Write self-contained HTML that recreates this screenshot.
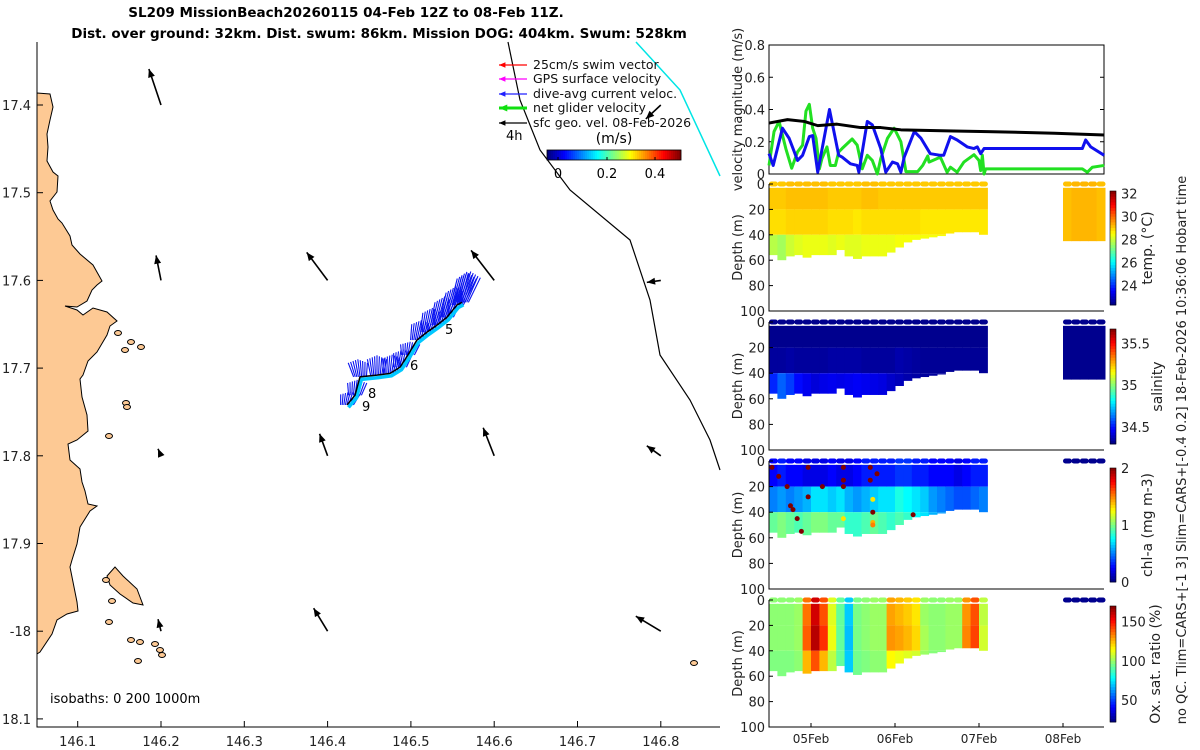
<!DOCTYPE html>
<html><head><meta charset="utf-8"><style>
html,body{margin:0;padding:0;background:#fff;}
svg{display:block;font-family:"DejaVu Sans","Liberation Sans",sans-serif;}
</style></head><body>
<svg id="fig" width="1200" height="750" viewBox="0 0 1200 750" xmlns="http://www.w3.org/2000/svg">
<g font-weight="bold" font-size="13.5" text-anchor="middle">
<text x="346" y="17">SL209 MissionBeach20260115 04-Feb 12Z to 08-Feb 11Z.</text>
<text x="379" y="38">Dist. over ground: 32km. Dist. swum: 86km. Mission DOG: 404km. Swum: 528km</text>
</g>
<g id="map"></g>
<g id="right"></g>
<text transform="translate(1186,450) rotate(-90)" text-anchor="middle" font-size="13" fill="#222">no QC. Tlim=CARS+[-1 3] Slim=CARS+[-0.4 0.2] 18-Feb-2026 10:36:06 Hobart time</text>
</svg>
<script>
// ---------- DATA ----------
const lonTicks=[146.1,146.2,146.3,146.4,146.5,146.6,146.7,146.8];
const latTicks=[17.4,17.5,17.6,17.7,17.8,17.9,18.0,18.1];
const latTickLabels=["17.4","17.5","17.6","17.7","17.8","17.9","-18","18.1"];
const trackLon=[146.4233,146.4329,146.4389,146.4593,146.4749,146.4869,146.4965,146.5073,146.5193,146.5313,146.5433,146.5553,146.5613];
const trackLat=[17.742,17.731,17.710,17.708,17.706,17.699,17.685,17.668,17.659,17.651,17.642,17.628,17.625];
const curU=[0.03,0.02,-0.02,0.0,0.02,0.03,0.02,0.04,0.05,0.07,0.08,0.09,0.08];
const curV=[0.12,0.14,0.16,0.18,0.17,0.16,0.12,0.18,0.22,0.26,0.28,0.30,0.28];
const geoLon=[146.2,146.2,146.2,146.2,146.4,146.4,146.4,146.6,146.6,146.8,146.8,146.8,146.8];
const geoLat=[17.4,17.6,17.8,18.0,17.6,17.8,18.0,17.6,17.8,17.4,17.6,17.8,18.0];
const geoU=[-0.11,-0.045,-0.027,-0.027,-0.19,-0.073,-0.127,-0.21,-0.1,-0.136,-0.127,-0.127,-0.227];
const geoV=[0.327,0.227,0.064,0.109,0.255,0.2,0.209,0.273,0.255,-0.127,-0.018,0.091,0.136];
// velocity panel (days since 04-Feb 12Z, m/s)
const blueT=[0,0.05,0.16,0.24,0.34,0.4,0.48,0.52,0.58,0.72,0.83,0.87,0.97,1.05,1.07,1.17,1.23,1.33,1.39,1.47,1.53,1.57,1.61,1.73,1.81,1.92,2.04,2.08,2.16,2.24,2.36,2.44,2.48,2.52,2.56,3.73,3.77,3.83,3.99];
const blueV=[0.126,0.053,0.284,0.221,0.084,0.116,0.232,0.238,0.011,0.4,0.116,0.105,0.063,0.053,0.011,0.326,0.305,0.158,0.011,0.074,0.063,0.011,0.105,0.263,0.221,0.126,0.116,0.116,0.232,0.211,0.168,0.158,0.168,0.126,0.158,0.158,0.211,0.168,0.116];
const greenT=[0,0.06,0.12,0.2,0.27,0.34,0.4,0.44,0.48,0.52,0.56,0.6,0.63,0.69,0.73,0.79,0.83,0.87,0.99,1.05,1.11,1.17,1.23,1.29,1.33,1.41,1.49,1.57,1.63,1.77,1.83,1.89,1.905,2.04,2.12,2.16,2.24,2.32,2.44,2.5,2.52,2.54,2.56,2.58,3.73,3.79,3.85,3.99];
const greenV=[0.053,0.263,0.326,0.158,0.036,0.137,0.179,0.39,0.432,0.284,0.221,0.032,0.095,0.168,0.053,0.053,0.137,0.158,0.217,0.179,0.032,0.116,0.084,0,0.095,0.221,0.284,0.2,0.015,0.015,0.053,0.112,0.074,0.105,0.011,0.042,0.011,0.074,0.12,0.084,0.021,0.116,0,0.032,0.032,0.011,0.042,0.053];
const blackT=[0,0.22,0.42,0.58,0.81,1.09,1.33,1.57,2.2,2.6,3.4,3.99];
const blackV=[0.316,0.337,0.326,0.30,0.309,0.288,0.288,0.274,0.267,0.263,0.253,0.242];
// profile columns (days) and max depth (m)
const colT=[0,0.1,0.2,0.3,0.4,0.5,0.6,0.7,0.8,0.9,1.0,1.1,1.2,1.3,1.4,1.5,1.6,1.7,1.8,1.9,2.0,2.1,2.2,2.3,2.4,2.5];
const colDepth=[56,60,57,56,58,56,56,56,52,57,59,57,57,57,54,50,46,44,43,42,41,39,38,38,38,40];
const lateT=[3.5,3.6,3.7,3.8,3.9];
const lateDepth=[45,45,45,45,45];
const tempTop=[29.0,29.0,29.1,29.1,29.1,29.1,29.1,29.0,29.0,29.0,29.0,29.1,29.1,29.0,29.0,29.0,29.0,29.0,29.0,29.0,29.0,29.0,29.0,29.0,29.0,29.0];
const tempMid=[28.8,28.8,28.9,28.9,28.9,28.9,28.9,28.8,28.8,28.8,28.7,28.8,28.8,28.8,28.8,28.8,28.8,28.8,28.7,28.7,28.7,28.7,28.7,28.7,28.7,28.7];
const tempBot=[27.8,27.6,28.0,28.2,28.3,28.3,28.3,28.2,28.3,28.2,28.2,28.3,28.3,28.3,28.3,28.4,28.4,28.4,28.4,28.4,28.4,28.4,28.4,28.4,28.4,28.4];
const tempLate=[29.1,29.2,29.2,29.2,29.1];
const salTop=[34.32,34.32,34.32,34.32,34.32,34.32,34.32,34.32,34.32,34.32,34.32,34.32,34.32,34.32,34.32,34.32,34.32,34.32,34.32,34.32,34.32,34.32,34.32,34.32,34.32,34.32];
const salMid=[34.34,34.34,34.35,34.34,34.34,34.34,34.34,34.35,34.35,34.35,34.35,34.34,34.34,34.34,34.34,34.36,34.35,34.34,34.33,34.33,34.33,34.33,34.33,34.33,34.33,34.33];
const salBot=[34.52,34.6,34.55,34.48,34.45,34.42,34.44,34.45,34.44,34.45,34.46,34.45,34.44,34.43,34.4,34.38,34.36,34.35,34.34,34.34,34.34,34.34,34.34,34.34,34.34,34.34];
const salLate=[34.32,34.32,34.32,34.32,34.32];
const chlTop=[0.25,0.3,0.25,0.25,0.2,0.2,0.2,0.25,0.2,0.2,0.25,0.3,0.3,0.3,0.3,0.35,0.35,0.3,0.3,0.25,0.25,0.25,0.2,0.25,0.3,0.3];
const chlMid=[0.5,0.55,0.5,0.55,0.6,0.7,0.7,0.65,0.7,0.6,0.55,0.6,0.65,0.7,0.7,0.8,0.75,0.7,0.65,0.55,0.5,0.45,0.4,0.4,0.45,0.5];
const chlBot=[0.95,1.0,0.95,0.9,0.95,1.0,1.0,0.95,0.95,0.85,0.85,0.9,0.95,0.9,0.85,0.9,0.85,0.75,0.7,0.6,0.55,0.5,0.5,0.5,0.55,0.6];
const chlDotT=[0,0.08,0.18,0.22,0.25,0.3,0.35,0.43,0.43,0.6,0.85,0.85,0.85,0.85,1.17,1.17,1.2,1.2,1.2,1.2,1.25,1.68];
const chlDotD=[5,12,20,35,38,45,55,5,28,20,5,15,20,45,5,15,30,40,48,50,10,42];
const chlDotV=[2,2,2,2,2,2,2,2,2,2,2,2,2,1.3,2,2,1.3,2,1.4,1.5,2,2];
const oxTop=[98,98,98,100,135,158,140,110,92,70,95,98,100,100,128,125,122,118,100,98,98,100,100,130,140,105];
const oxMid=[98,98,98,100,138,162,145,112,92,68,95,98,100,100,130,128,125,120,102,98,98,100,100,132,142,108];
const oxBot=[96,96,96,98,125,140,125,105,92,70,94,96,98,98,115,112,110,108,100,97,97,98,98,115,120,102];
// ---------- helpers ----------
const NS="http://www.w3.org/2000/svg";
function mk(tag,attrs,parent){const e=document.createElementNS(NS,tag);for(const k in attrs)e.setAttribute(k,attrs[k]);parent.appendChild(e);return e;}
function jet(t){t=Math.max(0,Math.min(1,t));const c=v=>Math.round(255*Math.max(0,Math.min(1,v)));
 return `rgb(${c(1.5-Math.abs(4*t-3))},${c(1.5-Math.abs(4*t-2))},${c(1.5-Math.abs(4*t-1))})`;}
// ---------- MAP ----------
const map=document.getElementById('map');
const mx=lon=>77.7+(lon-146.1)*833;
const my=lat=>105+(lat-17.4)*877;
const M={l:37,r:720,t:42,b:727};
const coast="37,93 50,94 53,107 50,120 47,134 48,147 47,161 53,172 58,176 57,192 50,201 53,210 58,219 62,223 70,236 72,245 80,254 93,265 102,281 97,285 92,290 87,301 77,307 65,306 77,310 83,315 93,308 107,312 117,321 110,326 107,335 97,352 88,361 83,375 80,379 82,397 87,415 88,431 77,440 68,444 70,460 80,469 82,482 85,491 88,504 97,506 90,511 80,527 77,544 72,560 70,567 77,602 78,611 67,614 57,620 52,634 40,652 37,654";
let e=mk('polygon',{points:coast,fill:'#fdc994',stroke:'#000','stroke-width':1},map);


e=mk('polygon',{points:"107,576 115,567 123,576 137,589 143,605 133,603 120,594 110,585",fill:'#fdc994',stroke:'#000','stroke-width':1},map);


[[131,342],[141,347],[126,403],[127,407],[109,436],[106,580],[112,601],[109,622],[131,640],[140,642],[155,644],[160,650],[162,655],[138,661],[694,663],[125,350],[118,333]].forEach(p=>{
 const s=mk('ellipse',{cx:p[0],cy:p[1],rx:3.5,ry:2.5,fill:'#fdc994',stroke:'#000','stroke-width':1},map);
 
 
});
e=mk('polyline',{points:"508,42 520,100 540,150 570,190 630,240 650,300 660,355 690,400 710,440 720,470",fill:'none',stroke:'#000','stroke-width':1.2},map);


e=mk('polyline',{points:"636,42 680,90 720,176",fill:'none',stroke:'#00e5e5','stroke-width':1.5},map);


e=mk('path',{d:`M${M.l},${M.t}V${M.b}H${M.r}`,fill:'none',stroke:'#000','stroke-width':1},map);


lonTicks.forEach(v=>{const x=mx(v);mk('line',{x1:x,x2:x,y1:M.b,y2:M.b-6,stroke:'#000'},map);
 const t=mk('text',{x:x,y:746,'text-anchor':'middle','font-size':13,fill:'#222'},map);t.textContent=v.toFixed(1);
 
 });
latTicks.forEach((v,i)=>{const y=my(v);mk('line',{x1:M.l,x2:M.l+6,y1:y,y2:y,stroke:'#000'},map);
 const t=mk('text',{x:31,y:y+5,'text-anchor':'end','font-size':13,fill:'#222'},map);t.textContent=latTickLabels[i];
 
 });
function arrow(x1,y1,x2,y2,col,w,hs,parent,name){
 const g=mk('g',{},parent);
 
 
 mk('line',{x1,y1,x2,y2,stroke:col,'stroke-width':w},g);
 const a=Math.atan2(y2-y1,x2-x1);
 const p=[[x2,y2],[x2-hs*Math.cos(a-0.4),y2-hs*Math.sin(a-0.4)],[x2-hs*Math.cos(a+0.4),y2-hs*Math.sin(a+0.4)]];
 mk('polygon',{points:p.map(q=>q.join(',')).join(' '),fill:col},g);
}
const VS=110;
geoLon.forEach((lo,i)=>{const x=mx(lo),y=my(geoLat[i]);arrow(x,y,x+geoU[i]*VS,y-geoV[i]*VS,'#000',1.6,9,map,'geo-velocity-arrow');});
trackLon.forEach((lo,i)=>{const x=mx(lo),y=my(trackLat[i]);
 for(let k=-4;k<=4;k++){const l=mk('line',{x1:x+k*1.6,y1:y,x2:x+k*2.4+curU[i]*VS,y2:y-curV[i]*VS*(1-Math.abs(k)*0.05),stroke:'#0a14f0','stroke-width':1.1},map);
 
 }
});
e=mk('polyline',{points:trackLon.map((lo,i)=>`${mx(lo)+1.5},${my(trackLat[i])+2.5}`).join(' '),fill:'none',stroke:'#00c8ff','stroke-width':3.5},map);


e=mk('polyline',{points:trackLon.map((lo,i)=>`${mx(lo)},${my(trackLat[i])}`).join(' '),fill:'none',stroke:'#000','stroke-width':1.5},map);


[['5',445,334],['6',410,370],['8',368,398],['9',362,411]].forEach(d=>{const t=mk('text',{x:d[1],y:d[2],'font-size':13},map);t.textContent=d[0];
 
 });
const legCols=['#ff0000','#ff00ff','#2020ff','#10e010','#000'];
const legTxt=['25cm/s swim vector','GPS surface velocity','dive-avg current veloc.','net glider velocity','sfc geo. vel. 08-Feb-2026'];
const legY=[65,79,94,108,123];
legTxt.forEach((s,i)=>{arrow(527,legY[i],499,legY[i],legCols[i],i==3?3:1.3,i==3?9:7,map,'legend-arrow');
 const t=mk('text',{x:533,y:legY[i]+4,'font-size':12.5,fill:'#111'},map);t.textContent=s;
 
 });
let t=mk('text',{x:506,y:140,'font-size':13},map);t.textContent='4h';


t=mk('text',{x:614,y:143,'font-size':14,'text-anchor':'middle'},map);t.textContent='(m/s)';


for(let i=0;i<67;i++)mk('rect',{x:547+i*2,y:150,width:2.2,height:10,fill:jet(i/66)},map);
mk('rect',{x:547,y:150,width:134,height:10,fill:'none',stroke:'#000','stroke-width':0.8},map);
[['0',558],['0.2',607],['0.4',655]].forEach(d=>{mk('line',{x1:d[1],x2:d[1],y1:160,y2:157,stroke:'#000'},map);
 const tt=mk('text',{x:d[1],y:178,'font-size':13,'text-anchor':'middle'},map);tt.textContent=d[0];
 
 });
t=mk('text',{x:50,y:703,'font-size':13},map);t.textContent='isobaths: 0   200  1000m';
t.setAttribute('xml:space','preserve');


// ---------- RIGHT PANELS ----------
const R=document.getElementById('right');
const PX0=769,PX1=1104,DAY=84;
const tx=d=>PX0+d*DAY;
const VP={t:45,b:174};
const vy=v=>VP.b-(v/0.8)*(VP.b-VP.t);
e=mk('rect',{x:PX0,y:VP.t,width:PX1-PX0,height:VP.b-VP.t,fill:'none',stroke:'#000'},R);


[0,0.2,0.4,0.6,0.8].forEach(v=>{const y=vy(v);mk('line',{x1:PX0,x2:PX0+4,y1:y,y2:y,stroke:'#000'},R);mk('line',{x1:PX1,x2:PX1-4,y1:y,y2:y,stroke:'#000'},R);
 const tt=mk('text',{x:PX0-4,y:y+5,'font-size':13,'text-anchor':'end',fill:'#222'},R);tt.textContent=v===0?'0':v.toFixed(1);
 
 });
t=mk('text',{transform:`translate(742,${(VP.t+VP.b)/2}) rotate(-90)`,'font-size':13,'text-anchor':'middle',fill:'#222'},R);t.textContent='velocity magnitude (m/s)';


function series(T,V,col,name){const p=mk('polyline',{points:T.map((d,i)=>`${tx(d)},${vy(V[i])}`).join(' '),fill:'none',stroke:col,'stroke-width':3,'stroke-linejoin':'round'},R);
 
 }
series(greenT,greenV,'#22e022','net-glider-velocity-line');
series(blueT,blueV,'#1010ee','dive-avg-current-line');
series(blackT,blackV,'#000','geostrophic-velocity-line');
const panels=[
 {name:'temperature',t:184,b:311,cb0:191,cb1:305,vmin:22.3,vmax:32.2,top:tempTop,mid:tempMid,bot:tempBot,late:tempLate,ticks:[32,30,28,26,24],label:'temp. (°C)',lx:1152},
 {name:'salinity',t:322,b:450,cb0:329,cb1:444,vmin:34.30,vmax:35.67,top:salTop,mid:salMid,bot:salBot,late:salLate,ticks:[35.5,35,34.5],label:'salinity',lx:1162},
 {name:'chlorophyll',t:461,b:589,cb0:468,cb1:582,vmin:0,vmax:2,top:chlTop,mid:chlMid,bot:chlBot,late:null,ticks:[2,1,0],label:'chl-a (mg m-3)',lx:1152},
 {name:'oxygen',t:600,b:727,cb0:606,cb1:722,vmin:22,vmax:170,top:oxTop,mid:oxMid,bot:oxBot,late:null,ticks:[150,100,50],label:'Ox. sat. ratio (%)',lx:1160}
];
panels.forEach(P=>{
 const g=mk('g',{},R);
 
 
 const dy=d=>P.t+d/100*(P.b-P.t);
 const col=v=>jet((v-P.vmin)/(P.vmax-P.vmin));
 const w=0.1*DAY+0.5;
 colT.forEach((d,i)=>{const x=tx(d);const D=colDepth[i];
  mk('rect',{x:x,y:dy(3),width:w,height:dy(Math.min(20,D))-dy(3),fill:col(P.top[i])},g);
  mk('rect',{x:x,y:dy(20),width:w,height:dy(Math.min(40,D))-dy(20),fill:col(P.mid[i])},g);
  if(D>40)mk('rect',{x:x,y:dy(40),width:w,height:dy(D)-dy(40),fill:col(P.bot[i])},g);
  mk('rect',{x:x,y:dy(0)-2.5,width:w,height:5,rx:2.5,fill:col(P.top[i])},g);
 });
 lateT.forEach((d,i)=>{const x=tx(d);
  if(P.late)mk('rect',{x:x,y:dy(3),width:w,height:dy(lateDepth[i])-dy(3),fill:col(P.late[i])},g);
  mk('rect',{x:x,y:dy(0)-2.5,width:w,height:5,rx:2.5,fill:P.late?col(P.late[i]):'#00008f'},g);
 });
 if(P.name==='chlorophyll'){chlDotT.forEach((d,i)=>{const c=mk('circle',{cx:tx(d)+3,cy:dy(chlDotD[i]),r:2.5,fill:col(chlDotV[i])},g);
  
  });}
 mk('path',{d:`M${PX0},${P.t}V${P.b}H${PX1}`,fill:'none',stroke:'#000'},g);
 [0,20,40,60,80,100].forEach(v=>{const y=dy(v);mk('line',{x1:PX0,x2:PX0+4,y1:y,y2:y,stroke:'#000'},g);
  const tt=mk('text',{x:PX0-4,y:y+5,'font-size':13,'text-anchor':'end',fill:'#222'},g);tt.textContent=v;
  
  });
 const yl=mk('text',{transform:`translate(742,${(P.t+P.b)/2}) rotate(-90)`,'font-size':13,'text-anchor':'middle',fill:'#222'},g);yl.textContent='Depth (m)';
 
 
 const n=40,h=(P.cb1-P.cb0)/n;
 for(let i=0;i<n;i++)mk('rect',{x:1110,y:P.cb0+i*h,width:6,height:h+0.4,fill:jet(1-(i+0.5)/n)},g);
 mk('rect',{x:1110,y:P.cb0,width:6,height:P.cb1-P.cb0,fill:'none',stroke:'#000','stroke-width':0.6},g);
 P.ticks.forEach(v=>{const y=P.cb1-(v-P.vmin)/(P.vmax-P.vmin)*(P.cb1-P.cb0);
  const tt=mk('text',{x:1121,y:y+5,'font-size':13,fill:'#222'},g);tt.textContent=v;
  
  });
 const cl=mk('text',{transform:`translate(${P.lx},${(P.cb0+P.cb1)/2}) rotate(-90)`,'font-size':14,'text-anchor':'middle',fill:'#222'},g);cl.textContent=P.label;
 
 
});
['05Feb','06Feb','07Feb','08Feb'].forEach((s,i)=>{const x=tx(0.5+i);
 mk('line',{x1:x,x2:x,y1:727,y2:723,stroke:'#000'},R);
 const tt=mk('text',{x:x,y:743,'font-size':12,'text-anchor':'middle',fill:'#222'},R);tt.textContent=s;
 
 });
</script>
</body></html>
